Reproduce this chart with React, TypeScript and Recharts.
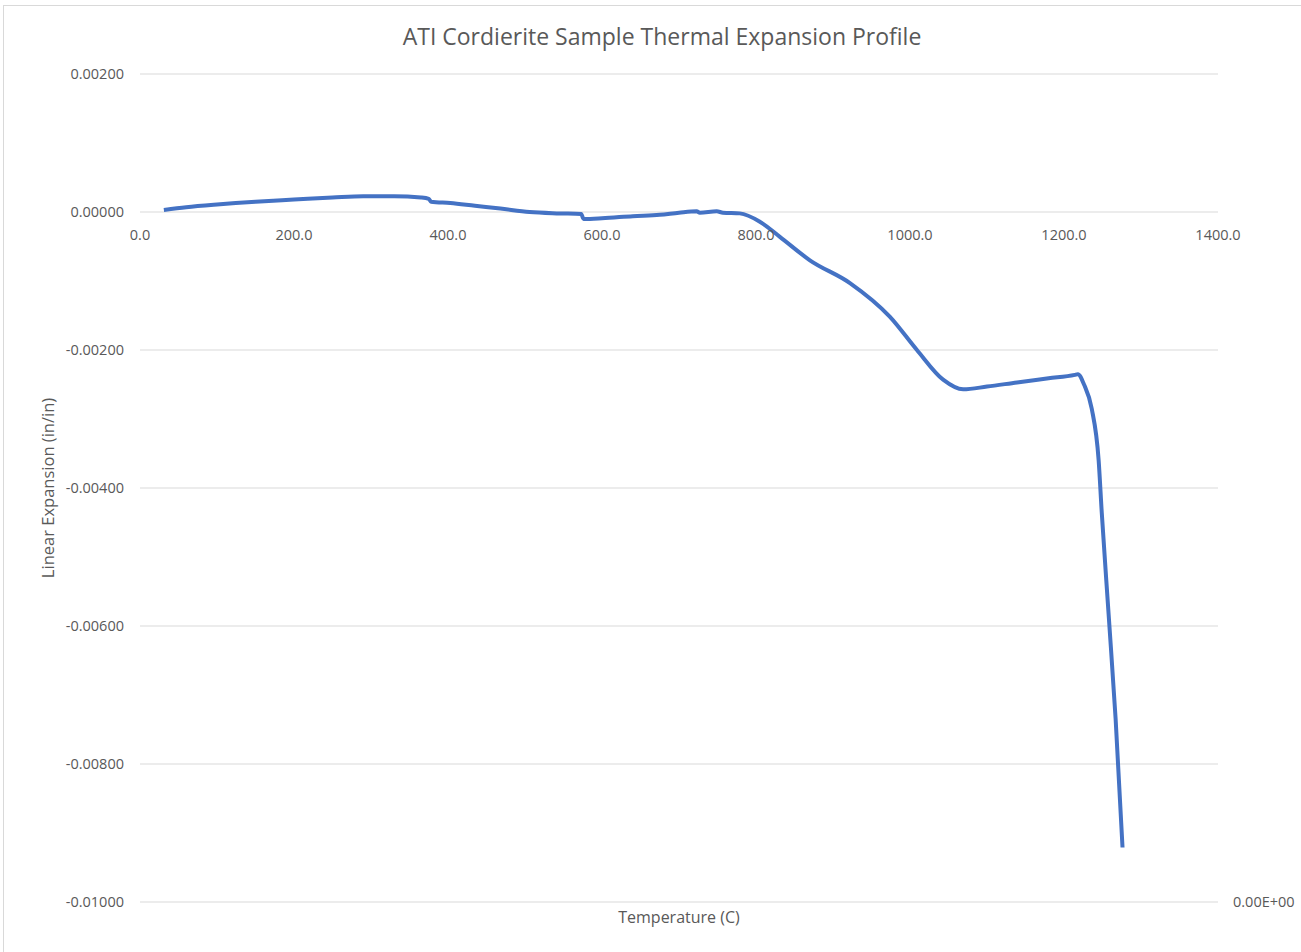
import { CartesianGrid, Label, Line, LineChart, XAxis, YAxis } from "recharts";

// readings: temperature (C) and linear expansion (in/in)
const TEMPS = [
  31, 60, 100, 150, 200, 250, 290, 330, 365, 375, 378, 403, 435, 468, 506, 545,
  573, 576, 600, 640, 675, 700, 723, 727, 749, 757, 779, 805, 831, 870, 922, 974,
  1009, 1043, 1069, 1100, 1139, 1180, 1214, 1218, 1226, 1236, 1245, 1249, 1258,
  1267, 1276,
];
const EXPANSION = [
  0.00003, 0.00007, 0.00011, 0.00015, 0.00018, 0.00021, 0.00023, 0.00023,
  0.00021, 0.00019, 0.00015, 0.00013, 0.00009, 0.00005, 0.0, -0.00002,
  -0.00003, -0.0001, -0.00009, -0.00006, -0.00004, -0.00001, 0.00001,
  -0.00001, 0.00001, -0.00001, -0.00002, -0.00014, -0.00036, -0.0007,
  -0.00103, -0.00152, -0.002, -0.00243, -0.00257, -0.00253, -0.00247,
  -0.00241, -0.00236, -0.00235, -0.0025, -0.00285, -0.0036, -0.00435,
  -0.00584, -0.00734, -0.00921,
];
const X_TICKS = [0, 200, 400, 600, 800, 1000, 1200, 1400];
const Y_TICKS = [-0.01, -0.008, -0.006, -0.004, -0.002, 0, 0.002];

const data = TEMPS.map((t, i) => ({ t, v: EXPANSION[i] }));

const W = 1301;
const H = 952;
const TOP = 74;
const BOTTOM = 50;
const Y_MIN = -0.01;
const Y_MAX = 0.002;
const PLOT_H = H - TOP - BOTTOM;
// temperature labels hang under the zero line, not under the plot
const ZERO_LIFT = (PLOT_H * (0 - Y_MIN)) / (Y_MAX - Y_MIN);

const FONT = "'Open Sans', 'Noto Sans', sans-serif";
const INK = "#595959";
const TICK_SIZE = 14.5;

function TempTick(props: any) {
  const { x, y, payload } = props;
  return (
    <text
      x={x}
      y={y - ZERO_LIFT + 28}
      textAnchor="middle"
      fill={INK}
      fontSize={TICK_SIZE}
      fontFamily={FONT}
    >
      {Number(payload.value).toFixed(1)}
    </text>
  );
}

export default function App() {
  return (
    <div
      style={{
        position: "absolute",
        left: 0,
        top: 0,
        width: W,
        height: H,
        overflow: "hidden",
        background: "#fff",
        fontFamily: FONT,
      }}
    >
      {/* chart frame, only the top/left edges show in the crop */}
      <div
        style={{
          position: "absolute",
          left: 3,
          top: 5,
          width: W + 20,
          height: H + 20,
          border: "1px solid #d9d9d9",
        }}
      />
      <div
        style={{
          position: "absolute",
          left: 662,
          top: 20,
          transform: "translateX(-50%)",
          whiteSpace: "nowrap",
          fontSize: 23,
          color: INK,
        }}
      >
        ATI Cordierite Sample Thermal Expansion Profile
      </div>
      <LineChart
        width={W}
        height={H}
        data={data}
        margin={{ top: TOP, right: 0, bottom: 0, left: 0 }}
        style={{ position: "absolute", left: 0, top: 0 }}
      >
        <CartesianGrid vertical={false} stroke="#d9d9d9" strokeWidth={1} />
        <XAxis
          dataKey="t"
          type="number"
          domain={[0, 1400]}
          ticks={X_TICKS}
          height={BOTTOM}
          axisLine={false}
          tickLine={false}
          tickSize={0}
          tickMargin={0}
          tick={<TempTick />}
          interval={0}
        >
          <Label
            content={(p: any) => {
              const vb = p.viewBox || {};
              return (
                <text
                  x={vb.x + vb.width / 2}
                  y={vb.y + 21}
                  textAnchor="middle"
                  fill={INK}
                  fontSize={16}
                  fontFamily={FONT}
                >
                  Temperature (C)
                </text>
              );
            }}
          />
        </XAxis>
        <YAxis
          type="number"
          domain={[Y_MIN, Y_MAX]}
          ticks={Y_TICKS}
          width={140}
          axisLine={false}
          tickLine={false}
          tickSize={0}
          tickMargin={16}
          interval={0}
          tick={{ fill: INK, fontSize: TICK_SIZE, fontFamily: FONT }}
          tickFormatter={(v: number) => v.toFixed(5)}
        >
          <Label
            content={(p: any) => {
              const vb = p.viewBox || {};
              const cx = vb.x + 47;
              const cy = vb.y + vb.height / 2;
              return (
                <text
                  x={cx}
                  y={cy}
                  transform={`rotate(-90 ${cx} ${cy})`}
                  textAnchor="middle"
                  dominantBaseline="central"
                  fill={INK}
                  fontSize={16.5}
                  fontFamily={FONT}
                >
                  Linear Expansion (in/in)
                </text>
              );
            }}
          />
        </YAxis>
        <YAxis
          yAxisId="r"
          orientation="right"
          type="number"
          domain={[0, 1]}
          allowDataOverflow
          ticks={[0]}
          width={83}
          axisLine={false}
          tickLine={false}
          tickSize={0}
          tickMargin={15}
          tick={{ fill: INK, fontSize: TICK_SIZE, fontFamily: FONT }}
          tickFormatter={() => "0.00E+00"}
        />
        <Line
          type="monotone"
          dataKey="v"
          stroke="#4472C4"
          strokeWidth={4}
          dot={false}
          isAnimationActive={false}
        />
      </LineChart>
    </div>
  );
}
